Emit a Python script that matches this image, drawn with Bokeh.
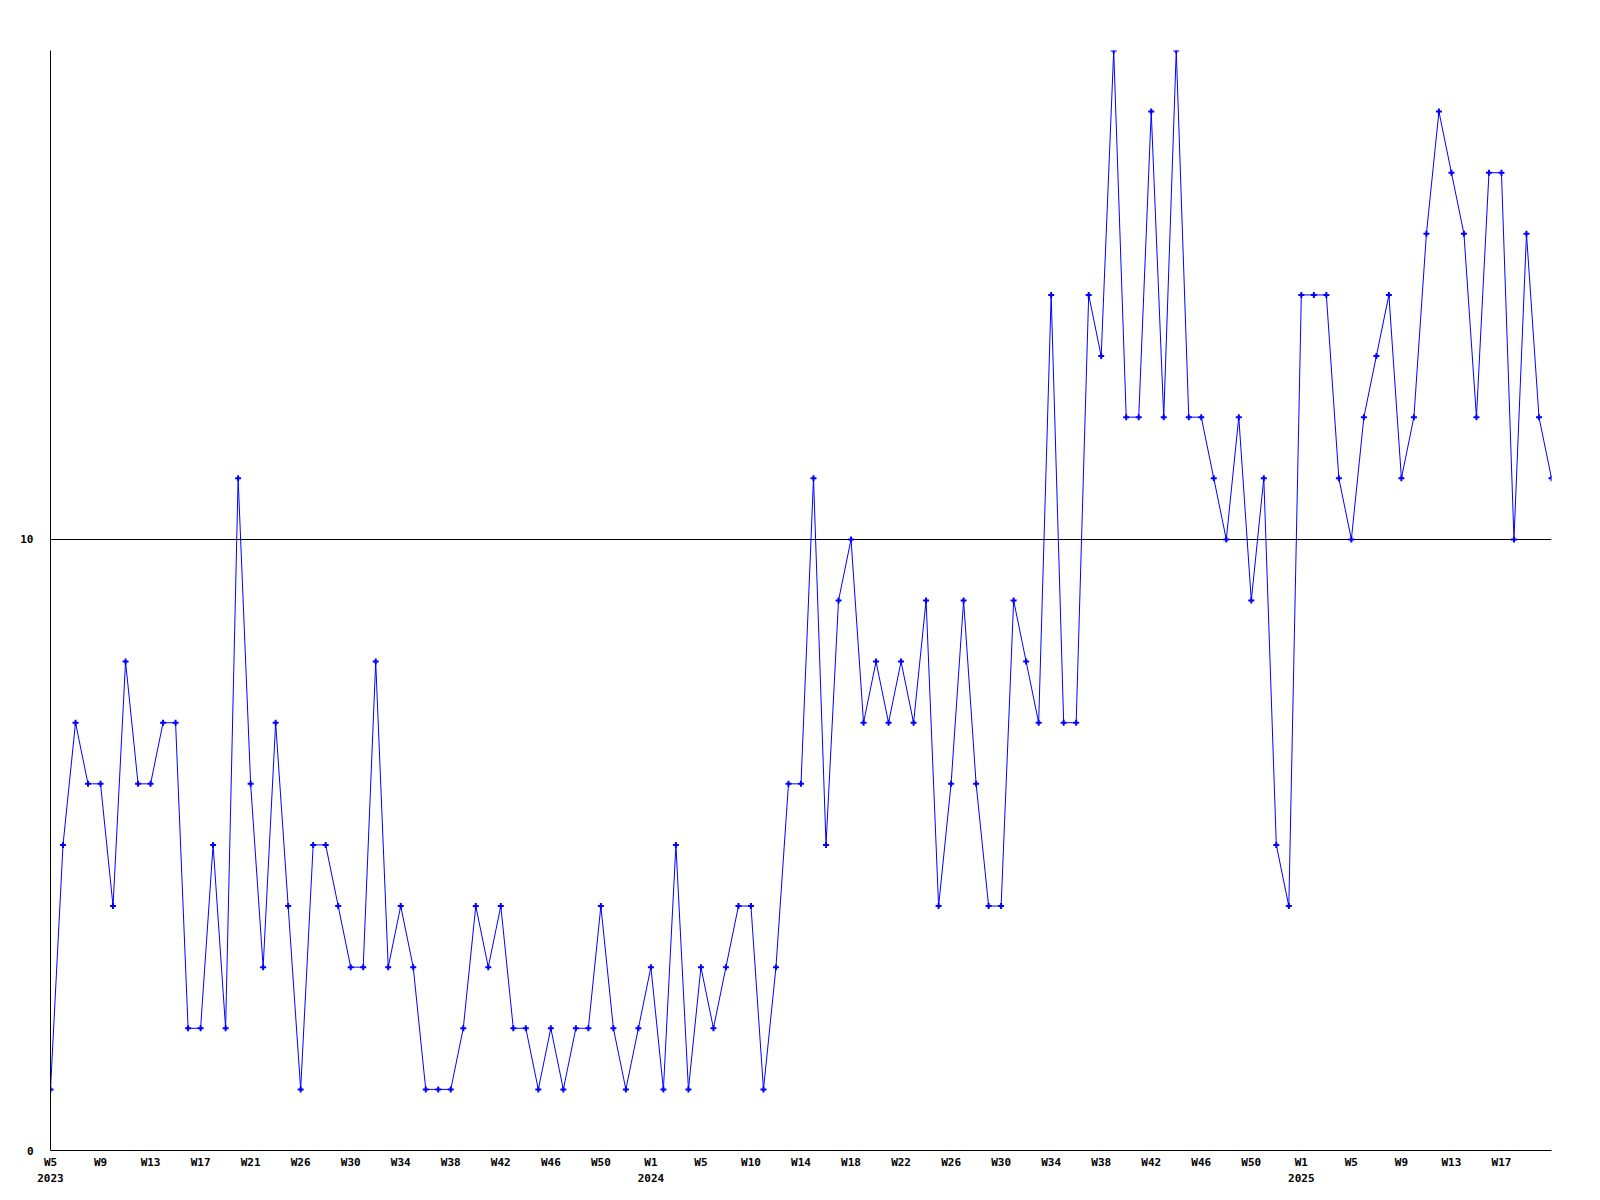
from bokeh.plotting import figure
from bokeh.models import FixedTicker, LinearAxis, Range1d, ColumnDataSource
from bokeh.embed import file_html
from bokeh.resources import INLINE

# weekly values, 2023 W5 ... 2025 W20 (121 points, evenly spaced by index)
values = [1, 5, 7, 6, 6, 4, 8, 6, 6, 7,
          7, 2, 2, 5, 2, 11, 6, 3, 7, 4,
          1, 5, 5, 4, 3, 3, 8, 3, 4, 3,
          1, 1, 1, 2, 4, 3, 4, 2, 2, 1,
          2, 1, 2, 2, 4, 2, 1, 2, 3, 1,
          5, 1, 3, 2, 3, 4, 4, 1, 3, 6,
          6, 11, 5, 9, 10, 7, 8, 7, 8, 7,
          9, 4, 6, 9, 6, 4, 4, 9, 8, 7,
          14, 7, 7, 14, 13, 18, 12, 12, 17, 12,
          18, 12, 12, 11, 10, 12, 9, 11, 5, 4,
          14, 14, 14, 11, 10, 12, 13, 14, 11, 12,
          15, 17, 16, 15, 12, 16, 16, 10, 15, 12,
          11]
index = list(range(len(values)))

tick_index = [0, 4, 8, 12, 16, 20, 24, 28, 32, 36, 40, 44,
              48, 52, 56, 60, 64, 68, 72, 76, 80, 84, 88, 92, 96,
              100, 104, 108, 112, 116]
tick_labels = ["W5", "W9", "W13", "W17", "W21", "W26", "W30", "W34", "W38", "W42", "W46", "W50",
               "W1", "W5", "W10", "W14", "W18", "W22", "W26", "W30", "W34", "W38", "W42", "W46", "W50",
               "W1", "W5", "W9", "W13", "W17"]
year_index = [0, 48, 100]
year_labels = ["2023", "2024", "2025"]
y_ticks = [0, 10]

FONT = "DejaVu Sans Mono"
BLUE = "#0000ff"

p = figure(width=1592, height=1192, output_backend="svg", toolbar_location=None,
           x_range=Range1d(0, len(values) - 1), y_range=Range1d(0, 18),
           min_border_left=50, min_border_right=41, min_border_top=50, min_border_bottom=42,
           x_axis_location=None, y_axis_location=None)
p.outline_line_color = None
p.background_fill_color = "white"
p.border_fill_color = "white"

src = ColumnDataSource(dict(x=index, y=values))
p.line("x", "y", source=src, line_color=BLUE, line_width=1)
p.scatter("x", "y", source=src, marker="cross", size=6, line_color=BLUE, line_width=2)


def style_axis(ax, standoff):
    ax.major_tick_line_color = None
    ax.minor_tick_line_color = None
    ax.major_tick_out = 0
    ax.major_tick_in = 0
    ax.minor_tick_out = 0
    ax.minor_tick_in = 0
    ax.major_label_standoff = standoff
    ax.major_label_text_font = FONT
    ax.major_label_text_font_style = "bold"
    ax.major_label_text_font_size = "11px"
    ax.major_label_text_color = "black"


# y axis
yax = LinearAxis(ticker=FixedTicker(ticks=y_ticks))
yax.axis_line_color = "black"
yax.axis_line_width = 1
style_axis(yax, 17)
p.add_layout(yax, "left")

# x axis with week labels
xax = LinearAxis(ticker=FixedTicker(ticks=tick_index))
xax.major_label_overrides = {i: l for i, l in zip(tick_index, tick_labels)}
xax.axis_line_color = "black"
xax.axis_line_width = 1
style_axis(xax, 5)
p.add_layout(xax, "below")

# year axis
yrax = LinearAxis(ticker=FixedTicker(ticks=year_index))
yrax.major_label_overrides = {i: l for i, l in zip(year_index, year_labels)}
yrax.axis_line_color = None
style_axis(yrax, 2)
p.add_layout(yrax, "below")

p.xgrid.visible = False
p.ygrid.ticker = FixedTicker(ticks=[10])
p.ygrid.grid_line_color = "black"
p.ygrid.grid_line_alpha = 1.0
p.ygrid.grid_line_width = 1

open("out.html", "w").write(file_html(p, INLINE))
